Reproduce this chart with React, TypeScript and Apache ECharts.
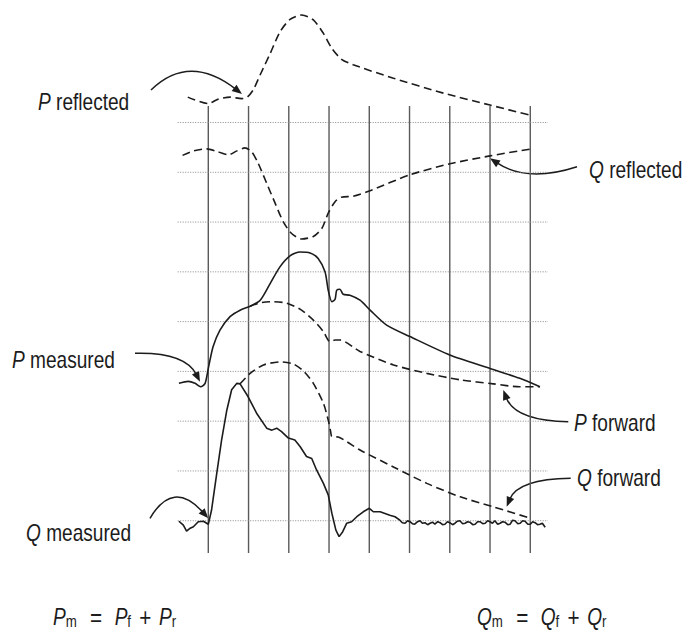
import React, { useEffect, useRef } from "react";
import * as echarts from "echarts";

// Grid positions (data units)
const verticalLineXs = [0, 1, 2, 3, 4, 5, 6, 7, 8];
const horizontalLineYs = [0, 1, 2, 3, 4, 5, 6, 7, 8];

// Curves [x, y]
const pReflected = [
  [-0.51, 8.51], [0, 8.38], [0.25, 8.47], [0.54, 8.51], [0.83, 8.48], [0.97, 8.51],
  [1.12, 8.66], [1.29, 8.96], [1.54, 9.39], [1.78, 9.82], [2.03, 10.07], [2.32, 10.16],
  [2.61, 10.06], [2.86, 9.79], [3.07, 9.49], [3.31, 9.27], [3.6, 9.16], [4.6, 8.89],
  [5.84, 8.59], [7.0, 8.35], [8.03, 8.14],
];

const qReflected = [
  [-0.64, 7.34], [-0.37, 7.43], [-0.04, 7.47], [0.25, 7.41], [0.5, 7.35], [0.71, 7.43],
  [0.91, 7.49], [1.08, 7.41], [1.24, 7.18], [1.45, 6.78], [1.66, 6.38], [1.86, 6.01],
  [2.07, 5.77], [2.32, 5.66], [2.61, 5.71], [2.82, 5.87], [2.98, 6.18], [3.15, 6.41],
  [3.31, 6.5], [3.6, 6.52], [4.02, 6.63], [5.01, 6.95], [6.0, 7.17], [7.0, 7.33], [8.03, 7.47],
];

const pMeasured = [
  [-0.73, 2.76], [-0.5, 2.8], [-0.33, 2.76], [-0.19, 2.69], [-0.08, 2.76], [0, 3.06],
  [0.12, 3.5], [0.29, 3.83], [0.54, 4.1], [0.79, 4.23], [1.04, 4.31], [1.29, 4.43],
  [1.54, 4.77], [1.78, 5.1], [2.03, 5.32], [2.28, 5.4], [2.53, 5.38], [2.73, 5.27],
  [2.9, 5.0], [2.98, 4.63], [3.07, 4.4], [3.15, 4.45], [3.19, 4.63], [3.27, 4.65],
  [3.35, 4.55], [3.52, 4.53], [3.77, 4.43], [4.02, 4.23], [4.43, 3.93], [5.01, 3.7],
  [6.0, 3.33], [7.0, 3.06], [7.74, 2.86], [8.24, 2.69],
];

const pForward = [
  [1.04, 4.31], [1.29, 4.38], [1.61, 4.4], [1.95, 4.37], [2.28, 4.25], [2.61, 4.03],
  [2.86, 3.8], [3.02, 3.6], [3.15, 3.63], [3.27, 3.63], [3.77, 3.4], [4.6, 3.13],
  [5.43, 2.96], [6.26, 2.83], [7.08, 2.75], [7.74, 2.69], [8.24, 2.69],
];

const qMeasured = [
  [-0.73, -0.01], [-0.62, -0.09], [-0.54, -0.21], [-0.45, -0.15], [-0.37, -0.12],
  [-0.25, -0.02], [-0.12, -0.01], [0, -0.07], [0.08, 0.21], [0.21, 0.95], [0.33, 1.62],
  [0.46, 2.22], [0.58, 2.63], [0.71, 2.76], [0.79, 2.75], [0.99, 2.49], [1.2, 2.16],
  [1.45, 1.86], [1.58, 1.82], [1.7, 1.86], [1.82, 1.79], [1.99, 1.66], [2.15, 1.62],
  [2.28, 1.49], [2.44, 1.29], [2.57, 1.25], [2.69, 1.02], [2.86, 0.75], [2.98, 0.52],
  [3.07, 0.15], [3.17, -0.19], [3.25, -0.32], [3.34, -0.22], [3.44, -0.05], [3.56, -0.02],
  [3.69, 0.08], [3.85, 0.18], [4.0, 0.25], [4.1, 0.18], [4.27, 0.18], [4.51, 0.11],
  [4.64, 0.08], [4.76, 0.01], [4.82, -0.04], [4.89, -0.05], [4.95, 0.0], [5.01, -0.02],
  [5.07, -0.06], [5.13, -0.07], [5.2, -0.02], [5.26, 0.0], [5.32, -0.05], [5.38, -0.04],
  [5.45, -0.08], [5.51, -0.05], [5.57, -0.03], [5.63, -0.07], [5.7, -0.02], [5.76, -0.04],
  [5.82, -0.08], [5.88, -0.07], [5.94, -0.02], [6.0, -0.04], [6.07, -0.08], [6.13, -0.05],
  [6.19, -0.01], [6.25, 0.0], [6.32, -0.06], [6.38, -0.05], [6.44, -0.02], [6.5, -0.03],
  [6.57, -0.08], [6.63, -0.07], [6.69, -0.02], [6.75, -0.02], [6.82, -0.06], [6.88, -0.05],
  [6.94, 0.0], [7.0, -0.02], [7.06, -0.05], [7.12, 0.0], [7.19, -0.07], [7.25, -0.05],
  [7.31, -0.02], [7.37, -0.03], [7.44, -0.08], [7.5, -0.07], [7.56, 0.01], [7.62, 0.0],
  [7.69, -0.06], [7.75, -0.05], [7.81, 0.0], [7.87, -0.01], [7.94, -0.07], [8.0, -0.07],
  [8.06, -0.02], [8.12, -0.04], [8.18, -0.08], [8.24, -0.07], [8.3, -0.05], [8.37, -0.13],
];

const qForward = [
  [0.79, 2.75], [1.04, 2.96], [1.37, 3.13], [1.78, 3.19], [2.11, 3.15], [2.36, 3.01],
  [2.61, 2.76], [2.86, 2.36], [2.98, 2.02], [3.04, 1.79], [3.07, 1.69], [3.23, 1.68],
  [3.77, 1.42], [4.6, 1.08], [5.43, 0.75], [6.26, 0.48], [7.08, 0.28], [8.0, 0.05],
];

// Labels
const labelTexts = {
  pReflected: ["P", " reflected"],
  qReflected: ["Q", " reflected"],
  pMeasured: ["P", " measured"],
  pForward: ["P", " forward"],
  qForward: ["Q", " forward"],
  qMeasured: ["Q", " measured"],
};

const FONT = "'Liberation Sans', Arial, sans-serif";
const INK = "#1c1c1c";
const SQUEEZE = 0.83;

function arrow(p0: number[], c: number[], tip: number[]) {
  const dx = tip[0] - c[0];
  const dy = tip[1] - c[1];
  const len = Math.hypot(dx, dy) || 1;
  const ux = dx / len;
  const uy = dy / len;
  const L = 10;
  const W = 4;
  const bx = tip[0] - ux * L;
  const by = tip[1] - uy * L;
  const endX = tip[0] - ux * (L - 2);
  const endY = tip[1] - uy * (L - 2);
  return [
    {
      type: "bezierCurve",
      shape: { x1: p0[0], y1: p0[1], cpx1: c[0], cpy1: c[1], x2: endX, y2: endY },
      style: { stroke: INK, lineWidth: 1.5, fill: "none" },
      silent: true,
    },
    {
      type: "polygon",
      shape: {
        points: [
          [tip[0], tip[1]],
          [bx - uy * W, by + ux * W],
          [bx + uy * W, by - ux * W],
        ],
      },
      style: { fill: INK },
      silent: true,
    },
  ];
}

function label(parts: string[], x: number, y: number) {
  return {
    type: "text",
    x,
    y,
    scaleX: SQUEEZE,
    silent: true,
    style: {
      text: `{i|${parts[0]}}{n|${parts[1]}}`,
      verticalAlign: "middle",
      align: "left",
      fill: INK,
      fontSize: 23,
      fontFamily: FONT,
      rich: {
        i: { fontStyle: "italic", fontSize: 23, fontFamily: FONT, fill: INK },
        n: { fontSize: 23, fontFamily: FONT, fill: INK },
      },
    },
  };
}

function equation(letter: string, x: number, y: number) {
  const main = { fontStyle: "italic", fontSize: 23, fontFamily: FONT, fill: INK, lineHeight: 26 };
  const sub = { fontSize: 16, fontFamily: FONT, fill: INK, lineHeight: 10, verticalAlign: "bottom" };
  const eq = { fontSize: 25, fontFamily: FONT, fill: INK, lineHeight: 26, padding: [0, 15, 0, 16] };
  const plus = { fontSize: 25, fontFamily: FONT, fill: INK, lineHeight: 26, padding: [0, 9, 0, 10] };
  return {
    type: "text",
    x,
    y,
    scaleX: SQUEEZE,
    silent: true,
    style: {
      text: `{a|${letter}}{s|m}{e|=}{a|${letter}}{s|f}{p|+}{a|${letter}}{s|r}`,
      verticalAlign: "middle",
      align: "left",
      fill: INK,
      fontSize: 23,
      fontFamily: FONT,
      rich: { a: main, s: sub, e: eq, p: plus },
    },
  };
}

export default function App() {
  const ref = useRef<HTMLDivElement>(null);

  useEffect(() => {
    if (!ref.current) return;
    const chart = echarts.init(ref.current, undefined, { renderer: "svg" });

    const gridSeries: any[] = [];
    verticalLineXs.forEach((x) => {
      gridSeries.push({
        type: "line",
        data: [[x, -0.65], [x, 8.33]],
        showSymbol: false,
        silent: true,
        lineStyle: { color: "#5a5a5a", width: 1.4 },
        z: 1,
      });
    });
    horizontalLineYs.forEach((y) => {
      gridSeries.push({
        type: "line",
        data: [[-0.76, y], [8.44, y]],
        showSymbol: false,
        silent: true,
        lineStyle: { color: "#8a8a8a", width: 1, type: [1, 1.5] },
        z: 1,
      });
    });

    const curve = (data: number[][], dashed: boolean, smooth: number) => ({
      type: "line",
      data,
      showSymbol: false,
      silent: true,
      smooth,
      lineStyle: {
        color: INK,
        width: 1.6,
        type: dashed ? [8, 4.5] : "solid",
      },
      z: 3,
    });

    const graphics: any[] = [
      label(labelTexts.pReflected, 38, 102),
      label(labelTexts.qReflected, 589, 170),
      label(labelTexts.pMeasured, 12, 360),
      label(labelTexts.pForward, 574, 423),
      label(labelTexts.qForward, 577, 478),
      label(labelTexts.qMeasured, 26, 533),
      equation("P", 53, 617),
      equation("Q", 477, 617),
      ...arrow([151, 90], [189, 53], [242, 94]),
      ...arrow([577, 166.7], [527, 183], [490, 158.3]),
      ...arrow([135, 353.3], [185, 352], [200, 381.7]),
      ...arrow([568.3, 421.7], [515, 421], [503.3, 390]),
      ...arrow([570.7, 478.3], [518, 479], [506.7, 506.7]),
      ...arrow([150, 518.3], [173, 479], [208.3, 518.3]),
    ];

    chart.setOption({
      animation: false,
      backgroundColor: "#ffffff",
      grid: { left: 168.05, right: 134.6, top: 3.04, bottom: 63.5 },
      xAxis: { type: "value", min: -1, max: 8.5, show: false },
      yAxis: { type: "value", min: -1, max: 10.4, show: false },
      series: [
        ...gridSeries,
        curve(pReflected, true, 0.25),
        curve(qReflected, true, 0.25),
        curve(pMeasured, false, 0.25),
        curve(pForward, true, 0.25),
        curve(qMeasured, false, 0),
        curve(qForward, true, 0.25),
      ],
      graphic: graphics,
    });

    return () => chart.dispose();
  }, []);

  return (
    <div
      ref={ref}
      style={{ position: "fixed", left: 0, top: 0, width: 685, height: 634, background: "#fff" }}
    />
  );
}
